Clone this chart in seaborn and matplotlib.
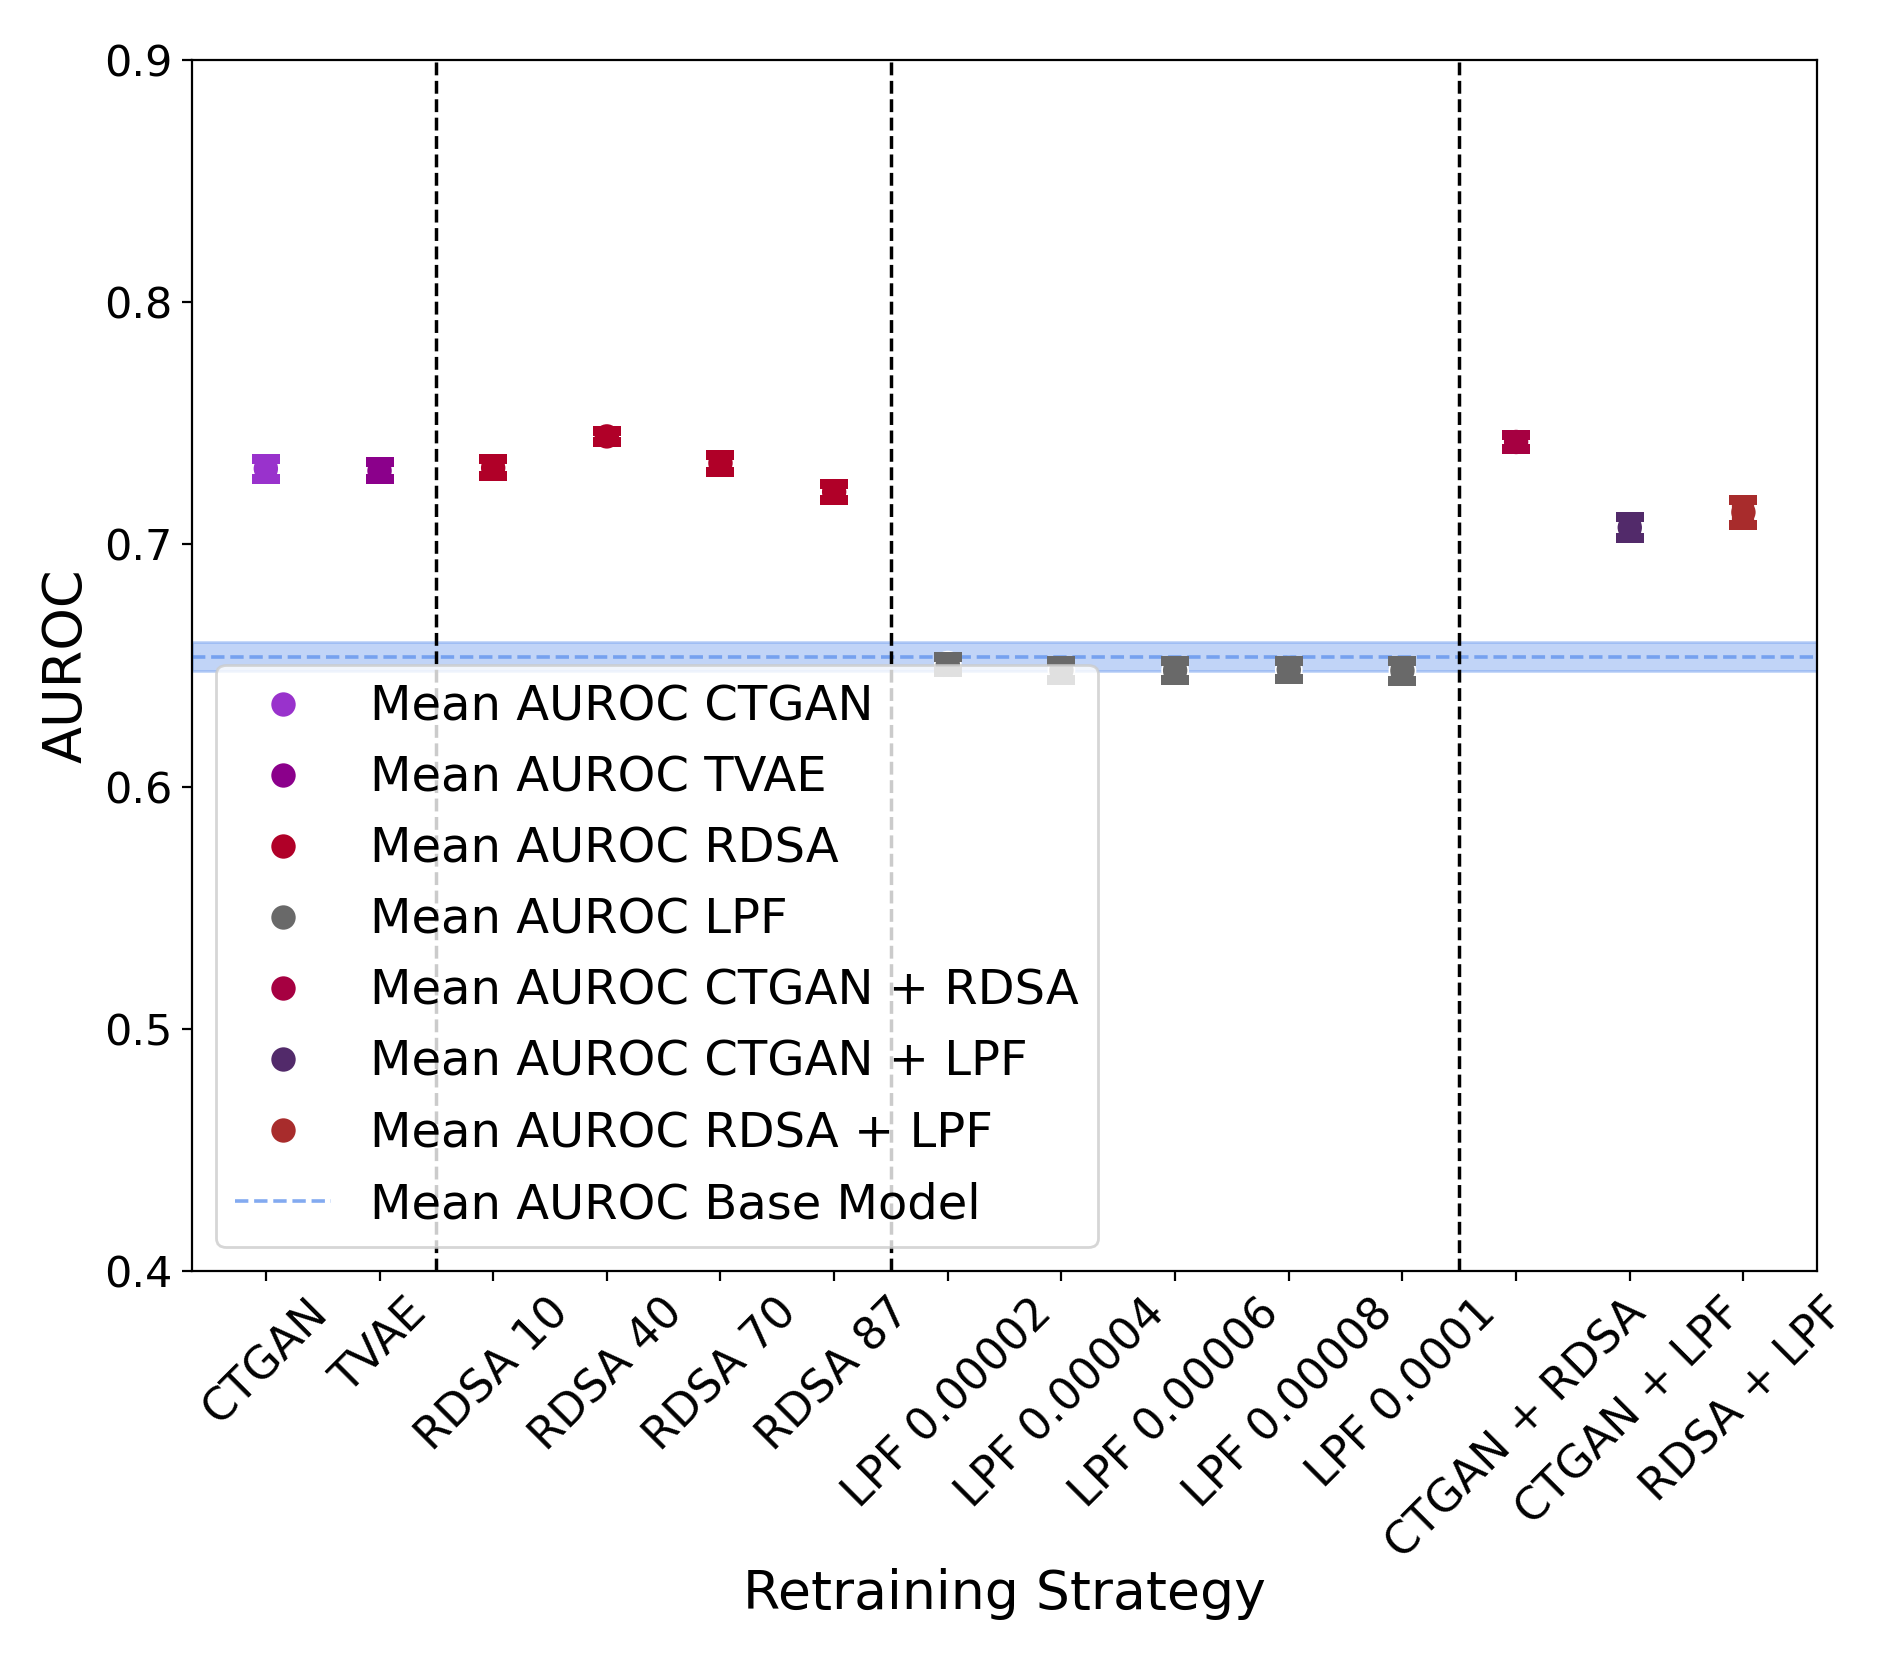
"""AUROC per retraining strategy, mean +/- std, against the base model band."""

import matplotlib
matplotlib.use("Agg")
import matplotlib.pyplot as plt
import pandas as pd
import seaborn as sns

# ---------------------------------------------------------------------------
# Data
# ---------------------------------------------------------------------------

strategies = [
    "CTGAN", "TVAE",
    "RDSA 10", "RDSA 40", "RDSA 70", "RDSA 87",
    "LPF 0.00002", "LPF 0.00004", "LPF 0.00006", "LPF 0.00008", "LPF 0.0001",
    "CTGAN + RDSA", "CTGAN + LPF", "RDSA + LPF",
]
groups = [
    "CTGAN", "TVAE",
    "RDSA", "RDSA", "RDSA", "RDSA",
    "LPF", "LPF", "LPF", "LPF", "LPF",
    "CTGAN + RDSA", "CTGAN + LPF", "RDSA + LPF",
]
auroc_mean = [
    0.7313, 0.7304,
    0.7316, 0.7446, 0.7336, 0.7217,
    0.6504, 0.6481, 0.6480, 0.6483, 0.6479,
    0.7423, 0.7070, 0.7133,
]
auroc_std = [
    0.0041, 0.0035,
    0.0035, 0.0023, 0.0035, 0.0033,
    0.0030, 0.0040, 0.0041, 0.0037, 0.0041,
    0.0030, 0.0045, 0.0052,
]

base_mean = 0.6536
base_std = 0.0060

group_colors = {
    "CTGAN": "#9932CC",
    "TVAE": "#8B008B",
    "RDSA": "#B00028",
    "LPF": "#696969",
    "CTGAN + RDSA": "#A60041",
    "CTGAN + LPF": "#522A6A",
    "RDSA + LPF": "#A82C2C",
}

separators = [1.5, 5.5, 10.5]

# ---------------------------------------------------------------------------
# Plot
# ---------------------------------------------------------------------------

df = pd.DataFrame({
    "strategy": strategies,
    "group": [f"Mean AUROC {g}" for g in groups],
    "mean": auroc_mean,
    "std": auroc_std,
})
palette = {f"Mean AUROC {g}": c for g, c in group_colors.items()}

fig, ax = plt.subplots(figsize=(1895 / 200, 1664 / 200), dpi=200)
fig.subplots_adjust(left=0.1013, right=0.959, top=0.964, bottom=0.236)

ax.axhspan(base_mean - base_std, base_mean + base_std,
           color="cornflowerblue", alpha=0.4, zorder=1)
ax.axhline(base_mean, color="cornflowerblue", alpha=0.8, ls="--", lw=1.3,
           zorder=1.5, label="Mean AUROC Base Model")

for x in separators:
    ax.axvline(x, color="black", ls="--", lw=1.25, zorder=1.5)

sns.scatterplot(data=df, x="strategy", y="mean", hue="group",
                palette=palette, s=88, linewidth=0.6, ax=ax, zorder=2)

# error bars sit on top of the points, so mostly the caps show
for _, row in df.iterrows():
    ax.errorbar(row["strategy"], row["mean"], yerr=row["std"], fmt="none",
                ecolor=palette[row["group"]], elinewidth=8, capsize=5.2,
                capthick=3.6, zorder=3)

ax.set_ylim(0.4, 0.9)
ax.set_yticks([0.4, 0.5, 0.6, 0.7, 0.8, 0.9])
ax.tick_params(axis="y", labelsize=15.5)
ax.tick_params(axis="x", labelsize=16)
plt.setp(ax.get_xticklabels(), rotation=45)
ax.set_xlabel("Retraining Strategy", fontsize=19.3, labelpad=0.5)
ax.set_ylabel("AUROC", fontsize=19.5)

handles, labels = ax.get_legend_handles_labels()
order = [labels.index(f"Mean AUROC {g}") for g in group_colors]
order.append(labels.index("Mean AUROC Base Model"))
ax.legend([handles[i] for i in order], [labels[i] for i in order],
          loc="lower left", fontsize=17.3)

fig.savefig("out.png", dpi=200)
